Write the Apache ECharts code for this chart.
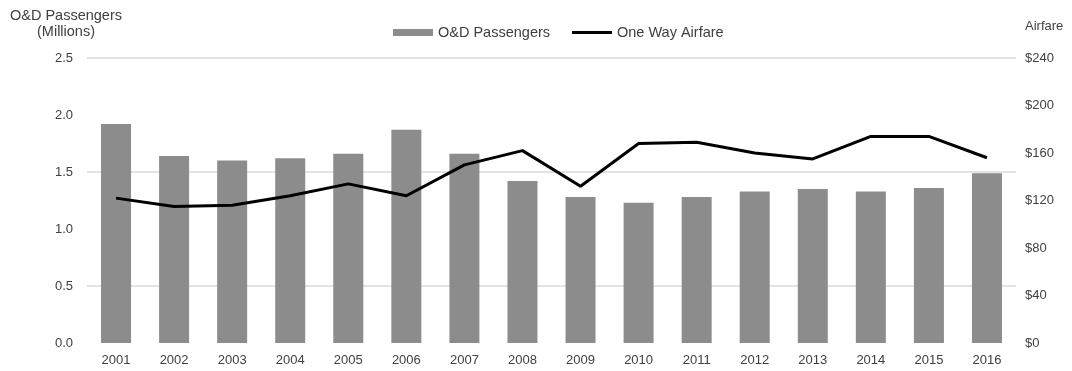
<!DOCTYPE html>
<html>
<head>
<meta charset="utf-8">
<script src="https://cdn.jsdelivr.net/npm/echarts@6/dist/echarts.min.js"></script>
<style>
  html, body { margin: 0; padding: 0; background: #fff; }
  #chart { width: 1072px; height: 371px; }
</style>
</head>
<body>
<div id="chart"></div>
<script>
// Years on the category axis
const years = ['2001', '2002', '2003', '2004', '2005', '2006', '2007', '2008',
               '2009', '2010', '2011', '2012', '2013', '2014', '2015', '2016'];

// Origin & destination passengers, millions
const passengers = [1.92, 1.64, 1.60, 1.62, 1.66, 1.87, 1.66, 1.42,
                    1.28, 1.23, 1.28, 1.33, 1.35, 1.33, 1.36, 1.49];

// Average one-way airfare, dollars
const airfare = [122, 115, 116, 124, 134, 124, 150, 162,
                 132, 168, 169, 160, 155, 174, 174, 156];

const textColor = '#404040';
const fontFamily = '"Liberation Sans", Arial, sans-serif';

// Thin bar used as the legend key of the airfare line
const lineKey = 'path://M0,0M0,2H40V5H0ZM40,7';

const chart = echarts.init(document.getElementById('chart'));

chart.setOption({
  animation: false,
  textStyle: { fontFamily: fontFamily, color: textColor },
  grid: { left: 87, right: 56, top: 58, bottom: 28, containLabel: false },
  legend: {
    left: 388,
    top: 20,
    itemWidth: 40,
    itemHeight: 7,
    itemGap: 22,
    textStyle: { fontSize: 14.5, color: textColor, fontFamily: fontFamily },
    data: [
      { name: 'O&D Passengers', icon: 'rect' },
      { name: 'One Way Airfare', icon: lineKey, itemStyle: { color: '#000' } }
    ]
  },
  graphic: [
    {
      type: 'text',
      x: 66,
      y: 8,
      style: {
        text: 'O&D Passengers\n(Millions)',
        align: 'center',
        verticalAlign: 'top',
        fill: textColor,
        font: '14.5px ' + fontFamily,
        lineHeight: 16
      }
    },
    {
      type: 'text',
      left: 1025,
      top: 20,
      style: {
        text: 'Airfare',
        fill: textColor,
        font: '13px ' + fontFamily
      }
    }
  ],
  xAxis: {
    type: 'category',
    data: years,
    axisLine: { show: false },
    axisTick: { show: false },
    axisLabel: { fontSize: 13, color: textColor, margin: 11 }
  },
  yAxis: [
    {
      type: 'value',
      min: 0,
      max: 2.5,
      interval: 0.5,
      axisLine: { show: false },
      axisTick: { show: false },
      axisLabel: {
        fontSize: 13,
        color: textColor,
        margin: 14,
        formatter: v => v.toFixed(1)
      },
      splitLine: {
        show: true,
        lineStyle: { color: ['rgba(0,0,0,0)', '#dadada'], width: 1.5 }
      }
    },
    {
      type: 'value',
      min: 0,
      max: 240,
      interval: 40,
      axisLine: { show: false },
      axisTick: { show: false },
      splitLine: { show: false },
      axisLabel: {
        fontSize: 13,
        color: textColor,
        margin: 9,
        formatter: v => '$' + v
      }
    }
  ],
  series: [
    {
      name: 'O&D Passengers',
      type: 'bar',
      data: passengers,
      barWidth: 30,
      itemStyle: { color: '#8c8c8c' }
    },
    {
      name: 'One Way Airfare',
      type: 'line',
      yAxisIndex: 1,
      data: airfare,
      symbol: 'none',
      lineStyle: { color: '#000', width: 3 },
      itemStyle: { color: '#000' }
    }
  ]
});
</script>
</body>
</html>
